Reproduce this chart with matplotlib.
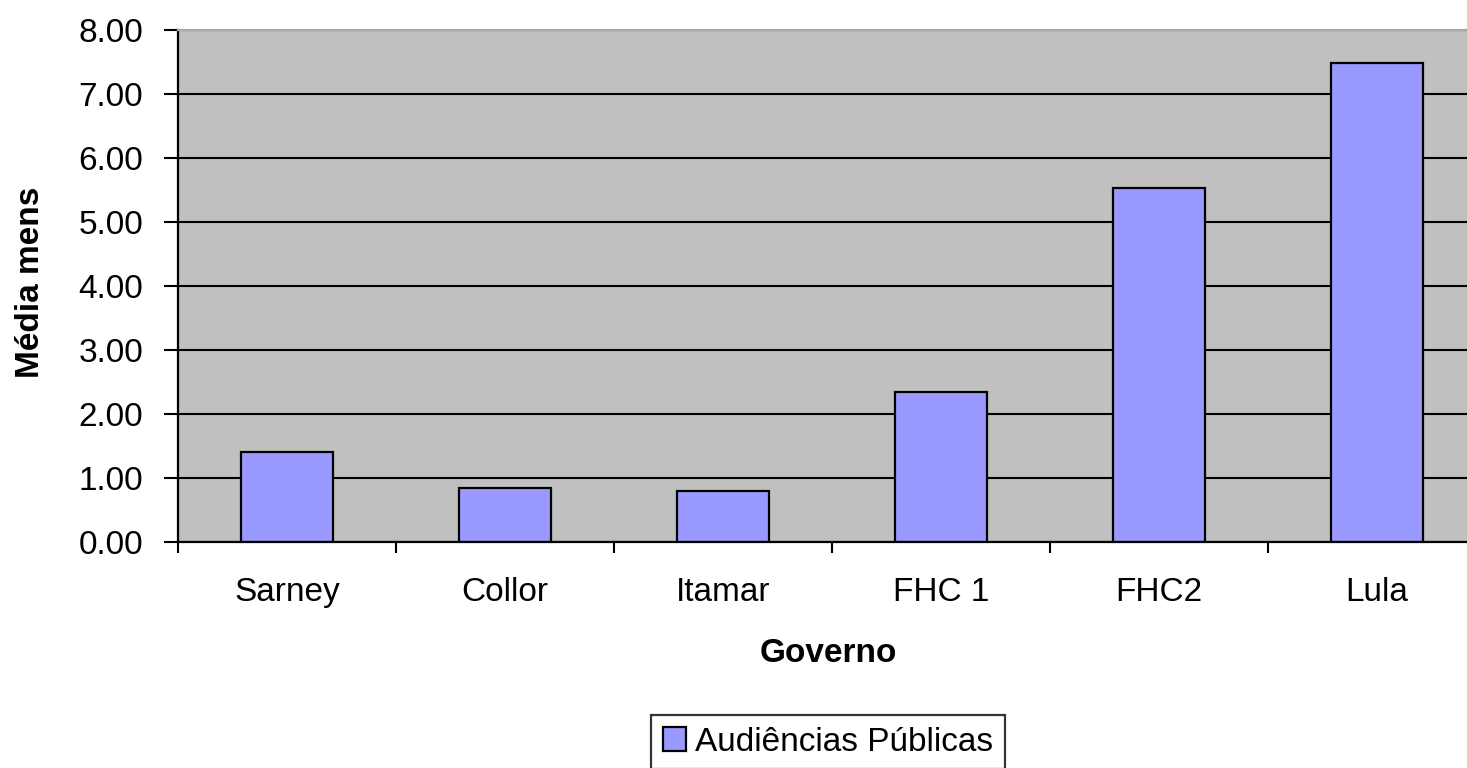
import numpy as np
import matplotlib
matplotlib.use("Agg")
import matplotlib.pyplot as plt
from matplotlib.ticker import FixedLocator, FormatStrFormatter

# --------------------------
# dados
# --------------------------
governos = ["Sarney", "Collor", "Itamar", "FHC 1", "FHC2", "Lula"]
media_mensal = [1.40, 0.85, 0.80, 2.34, 5.53, 7.48]
serie_nome = "Audiências Públicas"
y_ticks = [0, 1, 2, 3, 4, 5, 6, 7, 8]

plt.rcParams['font.family'] = ['Liberation Sans', 'DejaVu Sans']
FS = 24

fig = plt.figure(figsize=(14.67, 7.68), dpi=100)
W, H = 1467, 768
# area do grafico (em pixels da imagem de referencia)
left, right, top, bottom = 178, 1467, 30, 542
ax = fig.add_axes([left / W, 1 - bottom / H, (right - left) / W, (bottom - top) / H])
ax.set_facecolor("#C0C0C0")

x = np.arange(len(governos))
bars = ax.bar(x, media_mensal, width=0.42, color="#9999FF",
              edgecolor="black", linewidth=1.6, zorder=2, label=serie_nome)

ax.set_axisbelow(True)
ax.yaxis.grid(True, color="black", linewidth=1.5)
ax.yaxis.set_major_locator(FixedLocator(y_ticks))
ax.yaxis.set_major_formatter(FormatStrFormatter("%.2f"))
ax.tick_params(axis="y", direction="out", length=10, width=1.5, pad=15,
               labelsize=FS, colors="black")

# rotulos no centro, marcas entre categorias
ax.set_xticks(x)
ax.set_xticklabels(governos)
ax.set_xticks(np.arange(-0.5, len(governos), 1.0), minor=True)
ax.tick_params(axis="x", which="major", length=0, pad=25, labelsize=FS)
ax.tick_params(axis="x", which="minor", direction="out", length=8, width=1.5)

# a imagem original corta a ultima categoria na direita
px_per_cat = 218.0
ax.set_xlim(-0.5, -0.5 + (right - left) / px_per_cat)
ax.set_ylim(0, 8)

for s in ["left", "bottom"]:
    ax.spines[s].set_color("black")
    ax.spines[s].set_linewidth(1.6)
ax.spines["top"].set_color("#A8A8A8")
ax.spines["top"].set_linewidth(1.6)
ax.spines["right"].set_visible(False)

ax.set_xlabel("Governo", fontsize=FS, fontweight="bold", va="center")
ax.xaxis.set_label_coords((828 - left) / (right - left), (bottom - 654) / (bottom - top))
ax.set_ylabel("Média mens", fontsize=FS, fontweight="bold", va="center")
ax.yaxis.set_label_coords((31 - left) / (right - left), (bottom - 282) / (bottom - top))

leg = fig.legend(handles=[bars], labels=[serie_nome], loc="upper center",
                 bbox_to_anchor=(828 / W, 1 - 715 / H), borderaxespad=0,
                 fontsize=FS, frameon=True, fancybox=False, edgecolor="black",
                 handlelength=0.7, handleheight=0.7, handletextpad=0.25,
                 borderpad=0.35)
leg.get_frame().set_linewidth(1.6)

fig.savefig("out.png", dpi=100)
